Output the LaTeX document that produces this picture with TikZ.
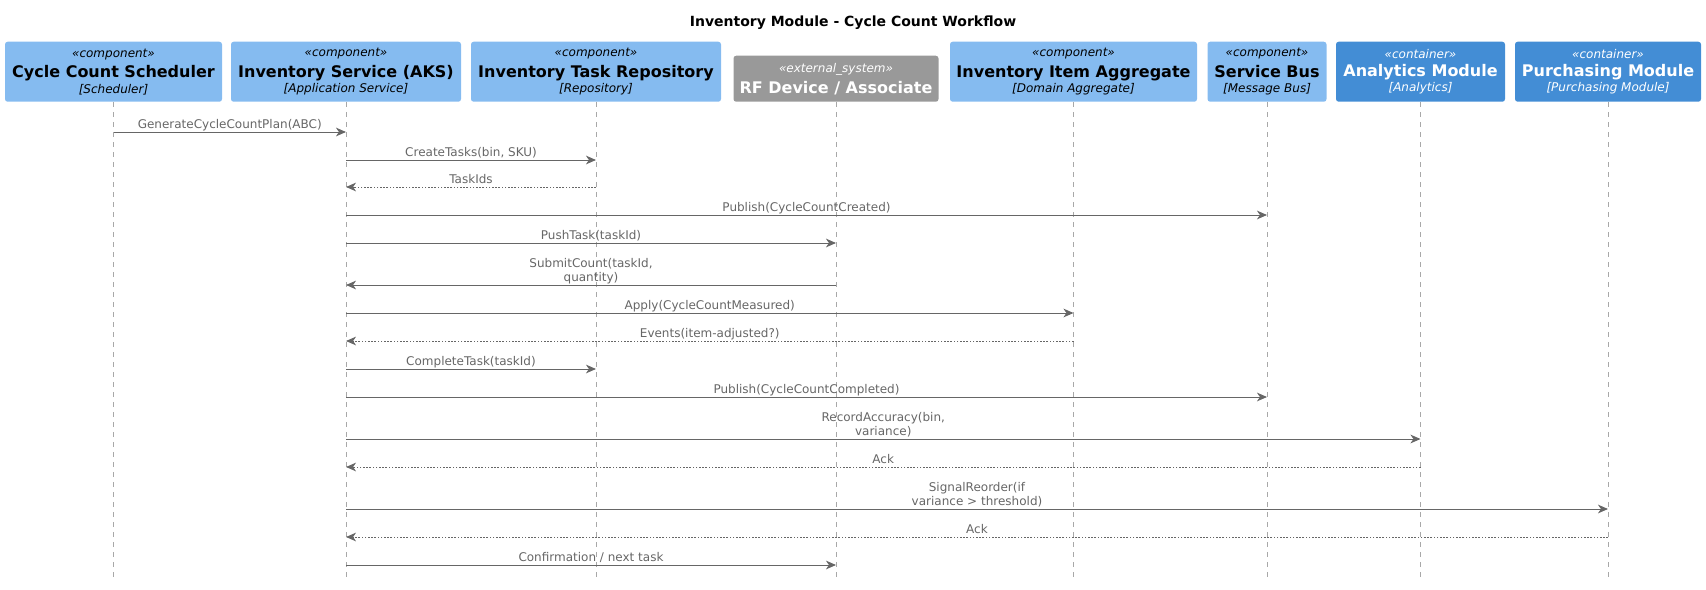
\documentclass[tikz,border=0pt]{standalone}
\usepackage{fontspec}
\setmainfont{DejaVu Sans}
\usepackage{tikz}
\usetikzlibrary{arrows.meta,calc,positioning}
\usepackage{xcolor}

\definecolor{compblue}{HTML}{85BBF0}
\definecolor{contblue}{HTML}{438DD5}
\definecolor{extgray}{HTML}{999999}
\definecolor{arrowgray}{HTML}{666666}
\definecolor{lifegray}{HTML}{A8A8A8}

\newcommand{\stereo}[1]{{\itshape\fontsize{9}{10}\selectfont\guillemotleft #1\guillemotright}}
\newcommand{\pname}[1]{{\bfseries\fontsize{12}{13}\selectfont #1}}
\newcommand{\tech}[1]{{\itshape\fontsize{9}{10}\selectfont [#1]}}

\begin{document}
\begin{tikzpicture}[
    x=0.75pt, y=-0.75pt,
    box/.style={rounded corners=2pt, minimum height=45pt, anchor=south,
                align=center, inner sep=0pt, font=\fontsize{9}{10}\selectfont},
    comp/.style={box, fill=compblue, text=black},
    cont/.style={box, fill=contblue, text=white},
    ext/.style={box, fill=extgray, text=white, minimum height=34.5pt},
    life/.style={draw=lifegray, line width=0.6pt, dash pattern=on 3.75pt off 3.75pt},
    msg/.style={draw=arrowgray, line width=0.75pt,
                -{Stealth[length=7.5pt, width=6.5pt, inset=2.2pt]}},
    ret/.style={msg, dash pattern=on 1.2pt off 1.2pt},
    lbl/.style={font=\fontsize{9}{10.5}\selectfont, text=arrowgray, align=center,
                anchor=south, inner sep=0pt, text depth=2pt, yshift=0pt}
]
\useasboundingbox (0,0) rectangle (1706,589);

\node[font=\bfseries\fontsize{10.5}{12}\selectfont] (title) at (853,23)
     {Inventory Module - Cycle Count Workflow};

% participants
\node[comp, minimum width=162.75pt] (sched) at (113.5,102)
     {\stereo{component}\\[3.5pt]\pname{Cycle Count Scheduler}\\[1.5pt]\tech{Scheduler}};
\node[comp, minimum width=172.5pt] (srv) at (346,102)
     {\stereo{component}\\[3.5pt]\pname{Inventory Service (AKS)}\\[1.5pt]\tech{Application Service}};
\node[comp, minimum width=187.5pt] (repo) at (596,102)
     {\stereo{component}\\[3.5pt]\pname{Inventory Task Repository}\\[1.5pt]\tech{Repository}};
\node[ext, minimum width=153.75pt] (rf) at (836,102)
     {\stereo{external\_system}\\[3.5pt]\pname{RF Device / Associate}};
\node[comp, minimum width=185.25pt] (item) at (1073.5,102)
     {\stereo{component}\\[3.5pt]\pname{Inventory Item Aggregate}\\[1.5pt]\tech{Domain Aggregate}};
\node[comp, minimum width=89.25pt] (bus) at (1267,102)
     {\stereo{component}\\[3.5pt]\pname{Service Bus}\\[1.5pt]\tech{Message Bus}};
\node[cont, minimum width=126.75pt] (anal) at (1420.5,102)
     {\stereo{container}\\[3.5pt]\pname{Analytics Module}\\[1.5pt]\tech{Analytics}};
\node[cont, minimum width=139.5pt] (purch) at (1608,102)
     {\stereo{container}\\[3.5pt]\pname{Purchasing Module}\\[1.5pt]\tech{Purchasing Module}};

% lifelines
\foreach \p in {sched,srv,repo,rf,item,bus,anal,purch} {
    \coordinate (\p-end) at (\p.south |- 0,579);
    \draw[life] (\p.south) -- (\p-end);
}

% messages
\draw[msg] (sched |- 0,132) -- (srv |- 0,132)  node[lbl, midway]{GenerateCycleCountPlan(ABC)};
\draw[msg] (srv |- 0,160)   -- (repo |- 0,160) node[lbl, midway]{CreateTasks(bin, SKU)};
\draw[ret] (repo |- 0,187)  -- (srv |- 0,187)  node[lbl, midway]{TaskIds};
\draw[msg] (srv |- 0,215)   -- (bus |- 0,215)  node[lbl, midway]{Publish(CycleCountCreated)};
\draw[msg] (srv |- 0,243)   -- (rf |- 0,243)   node[lbl, midway]{PushTask(taskId)};
\draw[msg] (rf |- 0,285)    -- (srv |- 0,285)  node[lbl, midway]{SubmitCount(taskId,\\quantity)};
\draw[msg] (srv |- 0,313)   -- (item |- 0,313) node[lbl, midway]{Apply(CycleCountMeasured)};
\draw[ret] (item |- 0,341)  -- (srv |- 0,341)  node[lbl, midway]{Events(item-adjusted?)};
\draw[msg] (srv |- 0,369)   -- (repo |- 0,369) node[lbl, midway]{CompleteTask(taskId)};
\draw[msg] (srv |- 0,397)   -- (bus |- 0,397)  node[lbl, midway]{Publish(CycleCountCompleted)};
\draw[msg] (srv |- 0,439)   -- (anal |- 0,439) node[lbl, midway]{RecordAccuracy(bin,\\variance)};
\draw[ret] (anal |- 0,467)  -- (srv |- 0,467)  node[lbl, midway]{Ack};
\draw[msg] (srv |- 0,509)   -- (purch |- 0,509) node[lbl, midway]{SignalReorder(if\\variance > threshold)};
\draw[ret] (purch |- 0,537) -- (srv |- 0,537)  node[lbl, midway]{Ack};
\draw[msg] (srv |- 0,565)   -- (rf |- 0,565)   node[lbl, midway]{Confirmation / next task};
\end{tikzpicture}
\end{document}
